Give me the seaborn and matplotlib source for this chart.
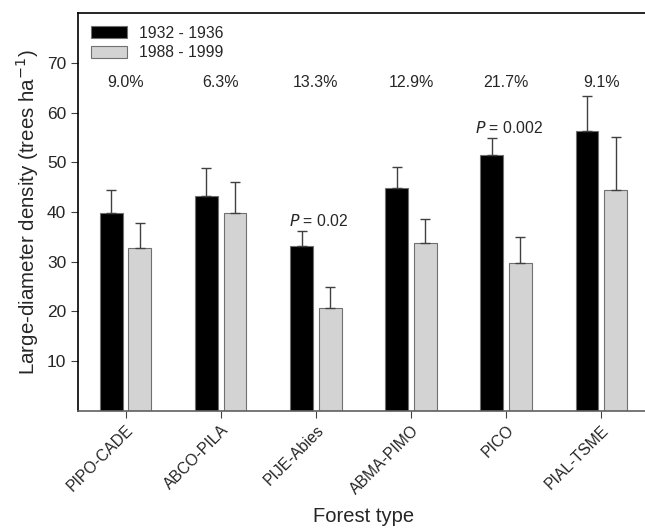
import numpy as np
import pandas as pd
import seaborn as sns
import matplotlib.pyplot as plt

# values
forest_types = ['PIPO-CADE', 'ABCO-PILA', 'PIJE-Abies', 'ABMA-PIMO', 'PICO', 'PIAL-TSME']
periods = ['1932 - 1936', '1988 - 1999']
density_1930s = [39.8, 43.2, 33.1, 44.9, 51.5, 56.3]
err_1930s = [4.6, 5.7, 3.1, 4.1, 3.4, 7.0]
density_1990s = [32.7, 39.7, 20.7, 33.7, 29.8, 44.4]
err_1990s = [5.0, 6.3, 4.2, 4.9, 5.2, 10.7]
pct_labels = ['9.0%', '6.3%', '13.3%', '12.9%', '21.7%', '9.1%']
p_labels = {2: ('0.02', 38.2), 4: ('0.002', 56.8)}

df = pd.DataFrame({
    'forest': forest_types * 2,
    'period': [periods[0]] * 6 + [periods[1]] * 6,
    'density': density_1930s + density_1990s,
})

sns.set_style('ticks')
plt.rcParams['font.family'] = ['Liberation Sans', 'DejaVu Sans']

fig = plt.figure(figsize=(6.45, 5.28), dpi=100)
ax = fig.add_axes([0.121, 0.222, 0.885, 0.753])

sns.barplot(data=df, x='forest', y='density', hue='period', order=forest_types,
            hue_order=periods, palette=['black', '#d3d3d3'], width=0.6, gap=0.2,
            errorbar=None, edgecolor='#707070', linewidth=0.8, ax=ax)

# upper-only error bars, placed at the bar centres seaborn drew
bars = ax.patches[:12]
xs = [b.get_x() + b.get_width() / 2 for b in bars]
tops = density_1930s + density_1990s
errs = err_1930s + err_1990s
ax.errorbar(xs, tops, yerr=[np.zeros(12), errs], fmt='none', ecolor='#404040',
            elinewidth=1.0, capsize=3.5, capthick=1.0, zorder=1)

for i, lab in enumerate(pct_labels):
    ax.text(i, 66.0, lab, ha='center', va='center', fontsize=11.5)
for i, (pv, y) in p_labels.items():
    ax.text(i + 0.03, y, r'$\mathit{P}$ = ' + pv, ha='center', va='center', fontsize=11.3)

ax.set_ylim(0, 80)
ax.set_xlim(-0.5, 5.5)
ax.set_yticks([10, 20, 30, 40, 50, 60, 70])
ax.tick_params(axis='y', labelsize=12.5, length=5, color='#404040')
ax.tick_params(axis='x', labelsize=11.3, length=5, color='#404040')
plt.setp(ax.get_xticklabels(), rotation=45, ha='right', rotation_mode='anchor')

ax.set_xlabel('Forest type', fontsize=14.5, labelpad=7)
ax.set_ylabel('Large-diameter density (trees ha$^{-1}$)', fontsize=14.8)

for s in ['left', 'top']:
    ax.spines[s].set_color('black')
    ax.spines[s].set_linewidth(1.2)
ax.spines['bottom'].set_color('#606060')
ax.spines['bottom'].set_linewidth(1.2)
ax.spines['right'].set_visible(False)

leg = ax.legend(loc='upper left', frameon=False, fontsize=11.3, handlelength=2.3,
                handleheight=0.8, borderaxespad=0.4, labelspacing=0.3, title=None)

fig.savefig('out.png', dpi=100)
